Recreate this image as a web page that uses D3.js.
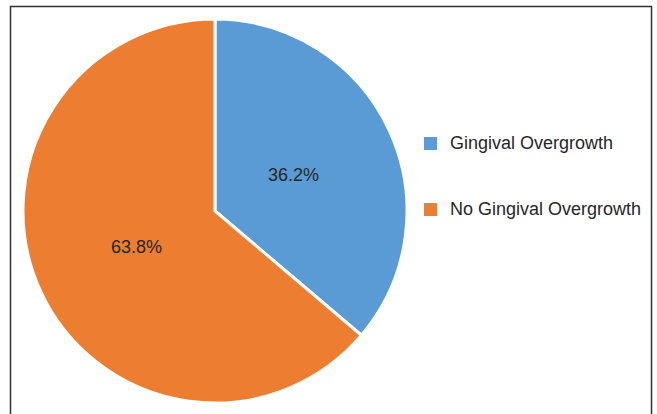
<!DOCTYPE html>
<html>
<head>
<meta charset="utf-8">
<script src="https://cdn.jsdelivr.net/npm/d3@7"></script>
<style>
  body { margin: 0; background: #fff; }
  svg { display: block; font-family: "Liberation Sans", Arial, sans-serif; }
</style>
</head>
<body>
<div id="chart"></div>
<script>
var categories = ["Gingival Overgrowth", "No Gingival Overgrowth"];
var values = [36.2, 63.8];
var labels = ["36.2%", "63.8%"];
var colors = ["#5b9bd5", "#ed7d31"];

var width = 657, height = 414;
var cx = 215, cy = 211, radius = 192;

var svg = d3.select("#chart")
    .append("svg")
    .attr("width", width)
    .attr("height", height);

// chart frame (bottom edge falls outside the picture)
svg.append("rect")
    .attr("x", 10.5)
    .attr("y", 6.5)
    .attr("width", 641)
    .attr("height", 420)
    .attr("fill", "none")
    .attr("stroke", "#333")
    .attr("stroke-width", 1.5);

var pie = d3.pie().sort(null).value(function(d){ return d; });
var arcs = pie(values);

var arc = d3.arc().innerRadius(0).outerRadius(radius);
var labelArc = d3.arc().innerRadius(radius * 0.45).outerRadius(radius * 0.45);

var g = svg.append("g").attr("transform", "translate(" + cx + "," + cy + ")");

g.selectAll("path")
    .data(arcs)
    .enter()
    .append("path")
    .attr("d", arc)
    .attr("fill", function(d, i){ return colors[i]; })
    .attr("stroke", "#fff")
    .attr("stroke-width", 3)
    .attr("stroke-linejoin", "miter");

g.selectAll("text")
    .data(arcs)
    .enter()
    .append("text")
    .attr("transform", function(d){
        var c = labelArc.centroid(d);
        return "translate(" + c[0] + "," + (c[1] + 6) + ")";
    })
    .attr("text-anchor", "middle")
    .attr("font-size", 18)
    .attr("fill", "#262626")
    .text(function(d, i){ return labels[i]; });

// legend
var legend = svg.append("g");
var legendY = d3.scalePoint().domain(categories).range([137, 203]);

legend.selectAll("rect")
    .data(categories)
    .enter()
    .append("rect")
    .attr("x", 424)
    .attr("y", function(d){ return legendY(d); })
    .attr("width", 13)
    .attr("height", 13)
    .attr("fill", function(d, i){ return colors[i]; });

legend.selectAll("text")
    .data(categories)
    .enter()
    .append("text")
    .attr("x", 450)
    .attr("y", function(d){ return legendY(d) + 12; })
    .attr("font-size", 18)
    .attr("fill", "#262626")
    .text(function(d){ return d; });
</script>
</body>
</html>
